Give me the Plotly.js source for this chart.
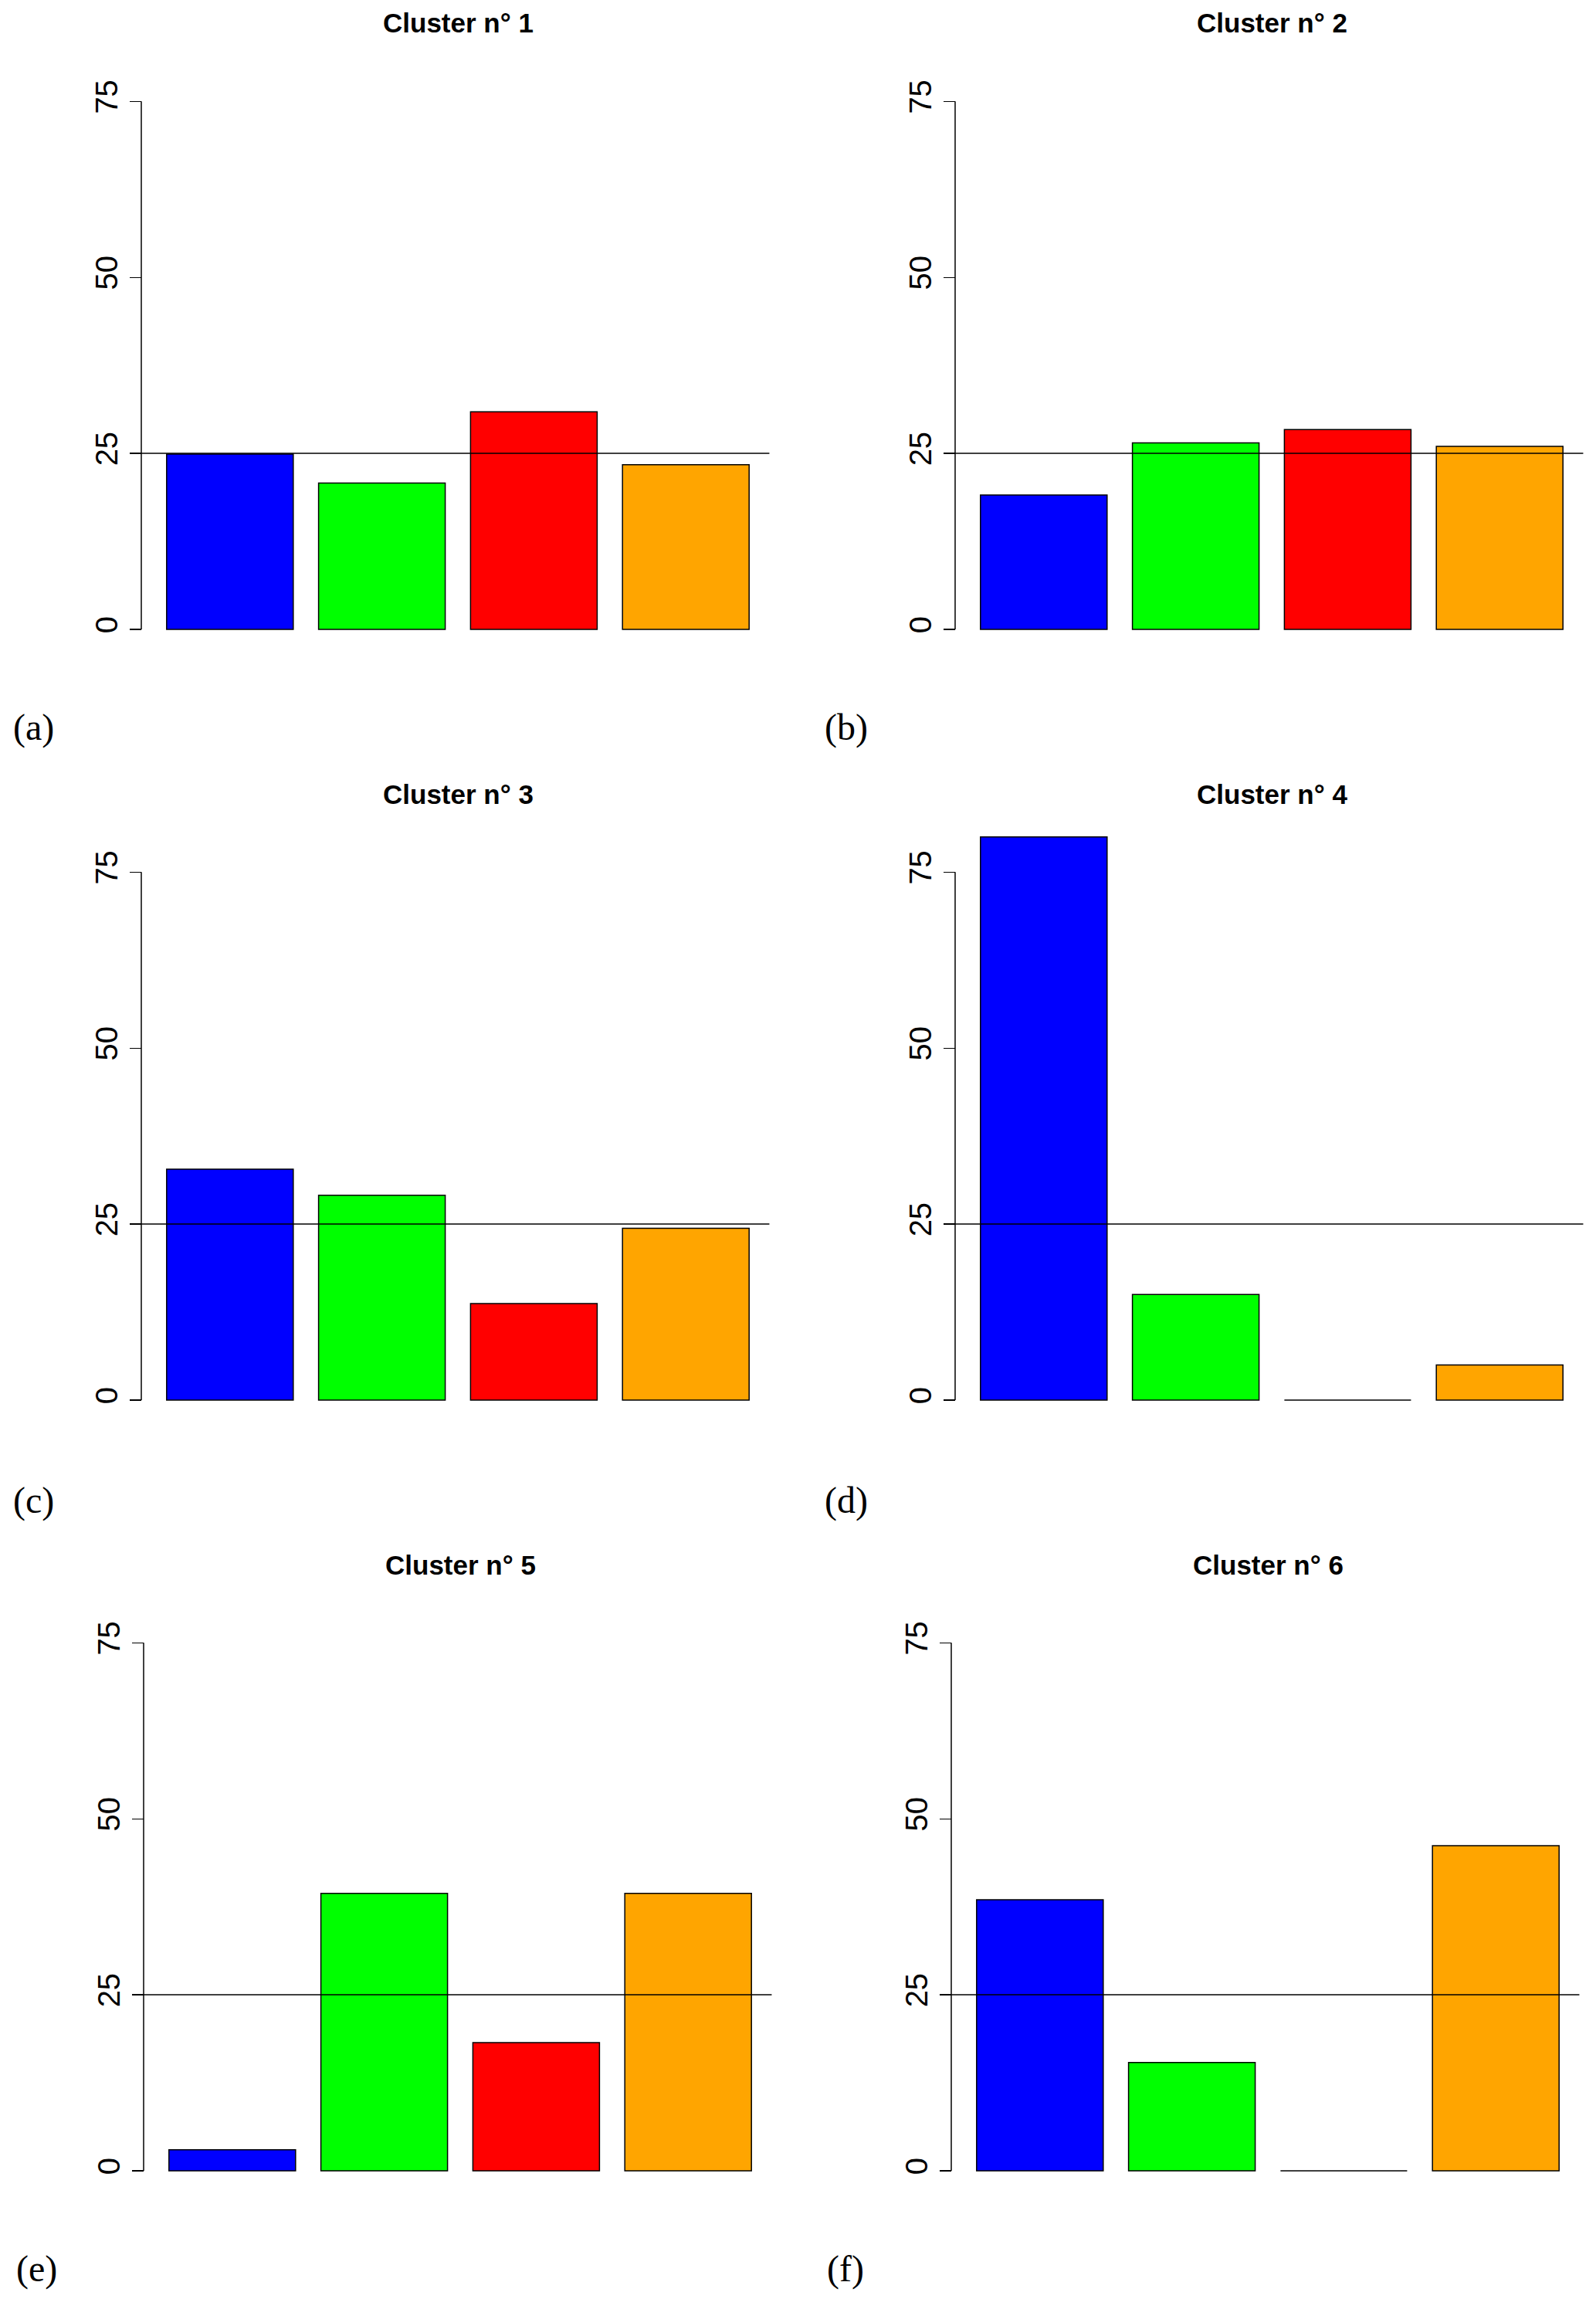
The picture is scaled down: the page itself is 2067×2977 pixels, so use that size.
<!DOCTYPE html>
<html>
<head>
<meta charset="utf-8">
<script src="https://cdn.plot.ly/plotly-3.0.1.min.js"></script>
<style>
  html, body { margin: 0; padding: 0; background: #fff; }
  #chart { width: 2067px; height: 2977px; }
</style>
</head>
<body>
<div id="chart"></div>
<script>
// ── Data (% per category) ───────────────────────────────────────────────────
const clusterTitles = ['Cluster n° 1', 'Cluster n° 2', 'Cluster n° 3',
                       'Cluster n° 4', 'Cluster n° 5', 'Cluster n° 6'];
const panelLabels   = ['(a)', '(b)', '(c)', '(d)', '(e)', '(f)'];

const blueVals   = [24.9, 19.1, 32.8, 80.0,  3.0, 38.5];
const greenVals  = [20.8, 26.5, 29.1, 15.0, 39.4, 15.4];
const redVals    = [30.9, 28.4, 13.7,  0.0, 18.2,  0.0];
const orangeVals = [23.4, 26.0, 24.4,  5.0, 39.4, 46.2];

const barColors  = ['#0000FF', '#00FF00', '#FF0000', '#FFA500'];
const yTicks     = [0, 25, 50, 75];
const yTickText  = ['0', '25', '50', '75'];
const refLevel   = 25;

// ── Geometry (pixels on the 2067 x 2977 page) ───────────────────────────────
const W = 2067, H = 2977;
const PX_PER_X  = 164;                      // one bar width
const PX_PER_Y  = 9.115;                    // one percent
const Y_RANGE   = [-3.2, 83.2];
const X_RANGE   = [-0.06, 4.96];
const axisLeft  = [183, 1237, 183, 1237, 186, 1232];   // pixel of x = 0
const zeroRow   = [815, 1813, 2811];                   // pixel of y = 0
const titleRow  = [30, 1028, 2026];
const labelRow  = [942, 1943, 2938];
const labelLeft = [15, 1066, 15, 1066, 19, 1069];

// bar centres as in R barplot (width 1, space 0.2)
const barX = barColors.map((_, k) => 0.7 + 1.2 * k);

const traces = [];
const annotations = [];
const shapes = [];
const layout = {
  width: W, height: H,
  margin: { t: 0, r: 0, b: 0, l: 0, pad: 0 },
  paper_bgcolor: '#fff',
  plot_bgcolor: 'rgba(0,0,0,0)',
  showlegend: false,
  font: { family: 'Liberation Sans, Arial, sans-serif', color: '#000' },
};

for (let i = 0; i < 6; i++) {
  const n   = i + 1;
  const row = Math.floor(i / 2);
  const x0  = axisLeft[i];
  const y0  = zeroRow[row];

  const leftPx   = x0 + X_RANGE[0] * PX_PER_X;
  const rightPx  = x0 + X_RANGE[1] * PX_PER_X;
  const topPx    = y0 - Y_RANGE[1] * PX_PER_Y;
  const bottomPx = y0 - Y_RANGE[0] * PX_PER_Y;

  traces.push({
    type: 'bar',
    x: barX,
    y: [blueVals[i], greenVals[i], redVals[i], orangeVals[i]],
    width: 1,
    marker: { color: barColors, line: { color: '#000', width: 1.5 } },
    xaxis: 'x' + n,
    yaxis: 'y' + n,
    hoverinfo: 'y',
  });

  layout['xaxis' + n] = {
    domain: [leftPx / W, rightPx / W],
    range: X_RANGE,
    anchor: 'y' + n,
    visible: false,
    fixedrange: true,
  };
  layout['yaxis' + n] = {
    domain: [1 - bottomPx / H, 1 - topPx / H],
    range: Y_RANGE,
    anchor: 'free',
    position: x0 / W,
    tickvals: yTicks,
    ticktext: yTickText,
    ticks: 'outside',
    ticklen: 15,
    tickwidth: 1.5,
    tickcolor: '#000',
    tickangle: -90,
    tickfont: { size: 40, color: '#000' },
    showgrid: false,
    zeroline: false,
    showline: false,
    fixedrange: true,
  };

  // axis line spans only the tick range, as in R
  shapes.push({
    type: 'line', xref: 'paper', yref: 'y' + n,
    x0: x0 / W, x1: x0 / W, y0: yTicks[0], y1: yTicks[yTicks.length - 1],
    line: { color: '#000', width: 1.5 },
  });
  // reference level (abline h = 25)
  shapes.push({
    type: 'line', xref: 'paper', yref: 'y' + n,
    x0: leftPx / W, x1: rightPx / W, y0: refLevel, y1: refLevel,
    line: { color: '#000', width: 1.5 },
  });

  // title centred over the bars (bars span x = 0.2 .. 4.8)
  annotations.push({
    text: clusterTitles[i],
    xref: 'paper', yref: 'paper',
    x: (x0 + 2.5 * PX_PER_X) / W, y: 1 - titleRow[row] / H,
    xanchor: 'center', yanchor: 'middle', showarrow: false,
    font: { size: 35, weight: 'bold', color: '#000' },
  });
  annotations.push({
    text: panelLabels[i],
    xref: 'paper', yref: 'paper',
    x: labelLeft[i] / W, y: 1 - labelRow[row] / H,
    xanchor: 'left', yanchor: 'middle', showarrow: false,
    font: { family: 'Liberation Serif, Times New Roman, serif', size: 48, color: '#000' },
  });
}

layout.shapes = shapes;
layout.annotations = annotations;

Plotly.newPlot('chart', traces, layout, { displayModeBar: false, staticPlot: true });
</script>
</body>
</html>
